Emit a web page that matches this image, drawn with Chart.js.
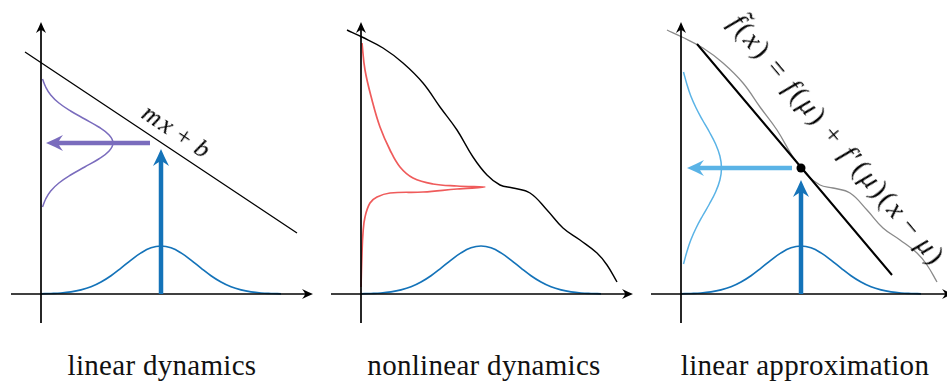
<!DOCTYPE html>
<html><head><meta charset="utf-8">
<script src="https://cdn.jsdelivr.net/npm/chart.js@4/dist/chart.umd.min.js"></script>
<style>
html,body{margin:0;padding:0;background:#fff;font-family:'Liberation Serif','DejaVu Serif',serif;}
#wrap{position:relative;width:947px;height:386px;overflow:hidden;background:#fff;}
canvas{position:absolute;top:0;}
.cap{position:absolute;top:351px;width:320px;text-align:center;white-space:nowrap;font-family:'Liberation Serif','DejaVu Serif',serif;font-size:29px;line-height:29px;letter-spacing:0.3px;color:#111;}
.mlab{position:absolute;left:0;top:0;white-space:nowrap;font-family:'Liberation Serif','DejaVu Serif',serif;line-height:1;color:#000;transform-origin:50% 50%;}
.mlab i{font-family:'Liberation Serif','DejaVu Serif',serif;font-style:italic;}
.mlab .op{margin:0 0.3em;}
.mlab .op2{margin:0 0.22em;}
</style></head><body>
<div id="wrap">
<canvas id="c1" width="320" height="340" style="left:0"></canvas>
<canvas id="c2" width="320" height="340" style="left:320px"></canvas>
<canvas id="c3" width="307" height="340" style="left:640px"></canvas>
<div class="mlab" id="lab1" style="font-size:26px"><i>mx</i><span class="op2">+</span><i>b</i></div>
<div class="mlab" id="lab3" style="font-size:28px"><i>f&#771;</i>(<i>x</i>)<span class="op">=</span><i>f</i>(<i>&#956;</i>)<span class="op">+</span><i>f</i>&#8242;(<i>&#956;</i>)(<i>x</i><span class="op2">&#8722;</span><i>&#956;</i>)</div>
<div class="cap" id="cap1" style="left:2px">linear dynamics</div>
<div class="cap" id="cap2" style="left:324px">nonlinear dynamics</div>
<div class="cap" id="cap3" style="left:645px">linear approximation</div>
</div>
<script>
// ---------- data (units: origin at the crossing of the axes) ----------
const captions = ['linear dynamics', 'nonlinear dynamics', 'linear approximation'];

const axisX = [-30, 272];
const axisY = [-29, 272];

// input density on the x axis (same in all panels)
const inputX = [0,10,20,30,40,50,60,70,80,90,100,110,120,130,140,150,160,170,180,190,200,210,220,230,240];
const inputP = [0.2,0.5,1.0,2.1,4.1,7.2,12.0,18.3,25.9,33.9,41.1,46.2,48,46.2,41.1,33.9,25.9,18.3,12.0,7.2,4.1,2.1,1.0,0.5,0.2];
const mu = 120;

// linear dynamics
const linX = [-16, 256];
const linY = [242, 61];
const linOutY = [87,95,103,111,119,127,135,143,151,159,167,175,183,191,199,207,215];
const linOutP = [1.5,4.7,9.7,17.9,29.6,43.7,57.7,68.1,72,68.1,57.7,43.7,29.6,17.9,9.7,4.7,1.5];
const linUpY = [0, 145];
const linLeftX = [109, 5];
const linMuOut = 151;

// nonlinear dynamics
const nlX = [-14,1,22,42,62,79,96,112,126,139,152,169,186,202,219,236,246,256];
const nlY = [264,257,246,231,211,187,164,137,119,109,106,101,84,66,54,41,29,12];
const nlOutP = [1,4,11,19,29,39,52,72,96,124,96,62,29,16,9,4,2,1,0];
const nlOutY = [251,224,194,167,144,127,116,110,108,107,105,102,101,97,91,77,61,41,7];

// linear approximation
const tanX = [16, 211];
const tanY = [250, 19];
const apMuOut = 126;
const apOutY = [30,42,54,66,78,90,102,114,126,138,150,162,174,186,198,210,222];
const apOutP = [2.5,5.8,9.8,15.1,21.5,28.4,34.6,38.9,40.5,38.9,34.6,28.4,21.5,15.1,9.8,5.8,2.5];
const apUpY = [0, 114];
const apLeftX = [111, 6];

// ---------- helpers ----------
const pts = (xs, ys) => xs.map((x, i) => ({x, y: ys[i]}));
const C = {blue:'#1473b9', purple:'#7a6cbd', red:'#ef5b5b', light:'#5ab3e6', grey:'#8a8a8a', black:'#000'};

function curve(data, color, w) {
  return {data, showLine:true, borderColor:color, borderWidth:w, pointRadius:0, tension:0.4, fill:false};
}
function arrow(data, color, lw, len, w) {
  return {data, showLine:false, pointRadius:0, arrow:{color, lw, len, w}};
}
function axes() {
  return [
    arrow(pts(axisX, [0,0]), C.black, 1.7, 11, 10),
    arrow(pts([0,0], axisY), C.black, 1.7, 11, 10)
  ];
}

const arrowPlugin = {
  id: 'arrows',
  afterDatasetsDraw(chart) {
    const ctx = chart.ctx;
    chart.data.datasets.forEach((ds, i) => {
      if (!ds.arrow) return;
      const meta = chart.getDatasetMeta(i);
      const a = meta.data[0], b = meta.data[meta.data.length - 1];
      const A = ds.arrow;
      const ang = Math.atan2(b.y - a.y, b.x - a.x);
      const L = Math.hypot(b.x - a.x, b.y - a.y);
      ctx.save();
      ctx.strokeStyle = A.color; ctx.fillStyle = A.color;
      ctx.lineWidth = A.lw; ctx.lineCap = 'butt';
      ctx.translate(a.x, a.y); ctx.rotate(ang);
      ctx.beginPath(); ctx.moveTo(0, 0); ctx.lineTo(L - A.len * 0.6, 0); ctx.stroke();
      ctx.translate(L, 0);
      ctx.beginPath();
      ctx.moveTo(0, 0);
      ctx.quadraticCurveTo(-A.len * 0.45, -A.w * 0.2, -A.len, -A.w / 2);
      ctx.quadraticCurveTo(-A.len * 0.72, -A.w * 0.1, -A.len * 0.72, 0);
      ctx.quadraticCurveTo(-A.len * 0.72, A.w * 0.1, -A.len, A.w / 2);
      ctx.quadraticCurveTo(-A.len * 0.45, A.w * 0.2, 0, 0);
      ctx.closePath(); ctx.fill();
      ctx.restore();
    });
  }
};

// places an HTML text label at a data position, rotated along a data line
function labelPlugin(lab) {
  return {
    id: 'mathLabel',
    afterDraw(chart) {
      if (!lab) return;
      const el = document.getElementById(lab.id);
      const xs = chart.scales.x, ys = chart.scales.y;
      const px = xs.getPixelForValue(lab.x), py = ys.getPixelForValue(lab.y);
      const ax = xs.getPixelForValue(lab.lineX[0]), ay = ys.getPixelForValue(lab.lineY[0]);
      const bx = xs.getPixelForValue(lab.lineX[1]), by = ys.getPixelForValue(lab.lineY[1]);
      const ang = Math.atan2(by - ay, bx - ax) * 180 / Math.PI;
      el.style.transform = 'none';
      el.style.letterSpacing = '0px';
      const w = el.getBoundingClientRect().width;
      const n = el.textContent.length;
      if (lab.width && n > 1) el.style.letterSpacing = Math.max(0, (lab.width - w) / n) + 'px';
      const r = el.getBoundingClientRect();
      el.style.left = (chart.canvas.offsetLeft + px - r.width / 2) + 'px';
      el.style.top = (chart.canvas.offsetTop + py - r.height / 2) + 'px';
      el.style.transform = 'rotate(' + ang + 'deg)';
    }
  };
}

function makeChart(id, xmax, datasets, lab) {
  return new Chart(document.getElementById(id), {
    type: 'scatter',
    data: {datasets},
    options: {
      responsive: false, animation: false, events: [],
      layout: {padding: 0, autoPadding: false},
      scales: {
        x: {type:'linear', min:-41, max:xmax, display:false},
        y: {type:'linear', min:-46, max:294, display:false}
      },
      plugins: {legend:{display:false}, tooltip:{enabled:false}}
    },
    plugins: [arrowPlugin, labelPlugin(lab)]
  });
}

// panel 1: linear dynamics
makeChart('c1', 279, [
  curve(pts(linX, linY), C.black, 1.3),
  curve(pts(linOutP, linOutY), C.purple, 1.5),
  curve(pts(inputX, inputP), C.blue, 1.7),
  ...axes(),
  arrow(pts([mu, mu], linUpY), C.blue, 4.5, 17, 16),
  arrow(pts(linLeftX, [linMuOut, linMuOut]), C.purple, 4.5, 17, 16)
], {id:'lab1', x:136, y:162, lineX:linX, lineY:linY, width:78});

// panel 2: nonlinear dynamics
makeChart('c2', 279, [
  curve(pts(nlX, nlY), C.black, 1.4),
  curve(pts(nlOutP, nlOutY), C.red, 1.7),
  curve(pts(inputX, inputP), C.blue, 1.7),
  ...axes()
], null);

// panel 3: linear approximation
makeChart('c3', 266, [
  {data:[{x:mu, y:apMuOut}], showLine:false, pointRadius:4.5, pointBackgroundColor:'#000', pointBorderWidth:0},
  curve(pts(tanX, tanY), C.black, 2),
  curve(pts(nlX, nlY), C.grey, 1.3),
  curve(pts(apOutP, apOutY), C.light, 1.5),
  curve(pts(inputX, inputP), C.blue, 1.7),
  ...axes(),
  arrow(pts([mu, mu], apUpY), C.blue, 4.5, 17, 16),
  arrow(pts(apLeftX, [apMuOut, apMuOut]), C.light, 4.5, 17, 16)
], {id:'lab3', x:157, y:154, lineX:tanX, lineY:tanY, width:322});

captions.forEach((c, i) => {
  const el = document.getElementById('cap' + (i + 1));
  if (el.textContent !== c) el.textContent = c;
});
</script>
</body></html>
